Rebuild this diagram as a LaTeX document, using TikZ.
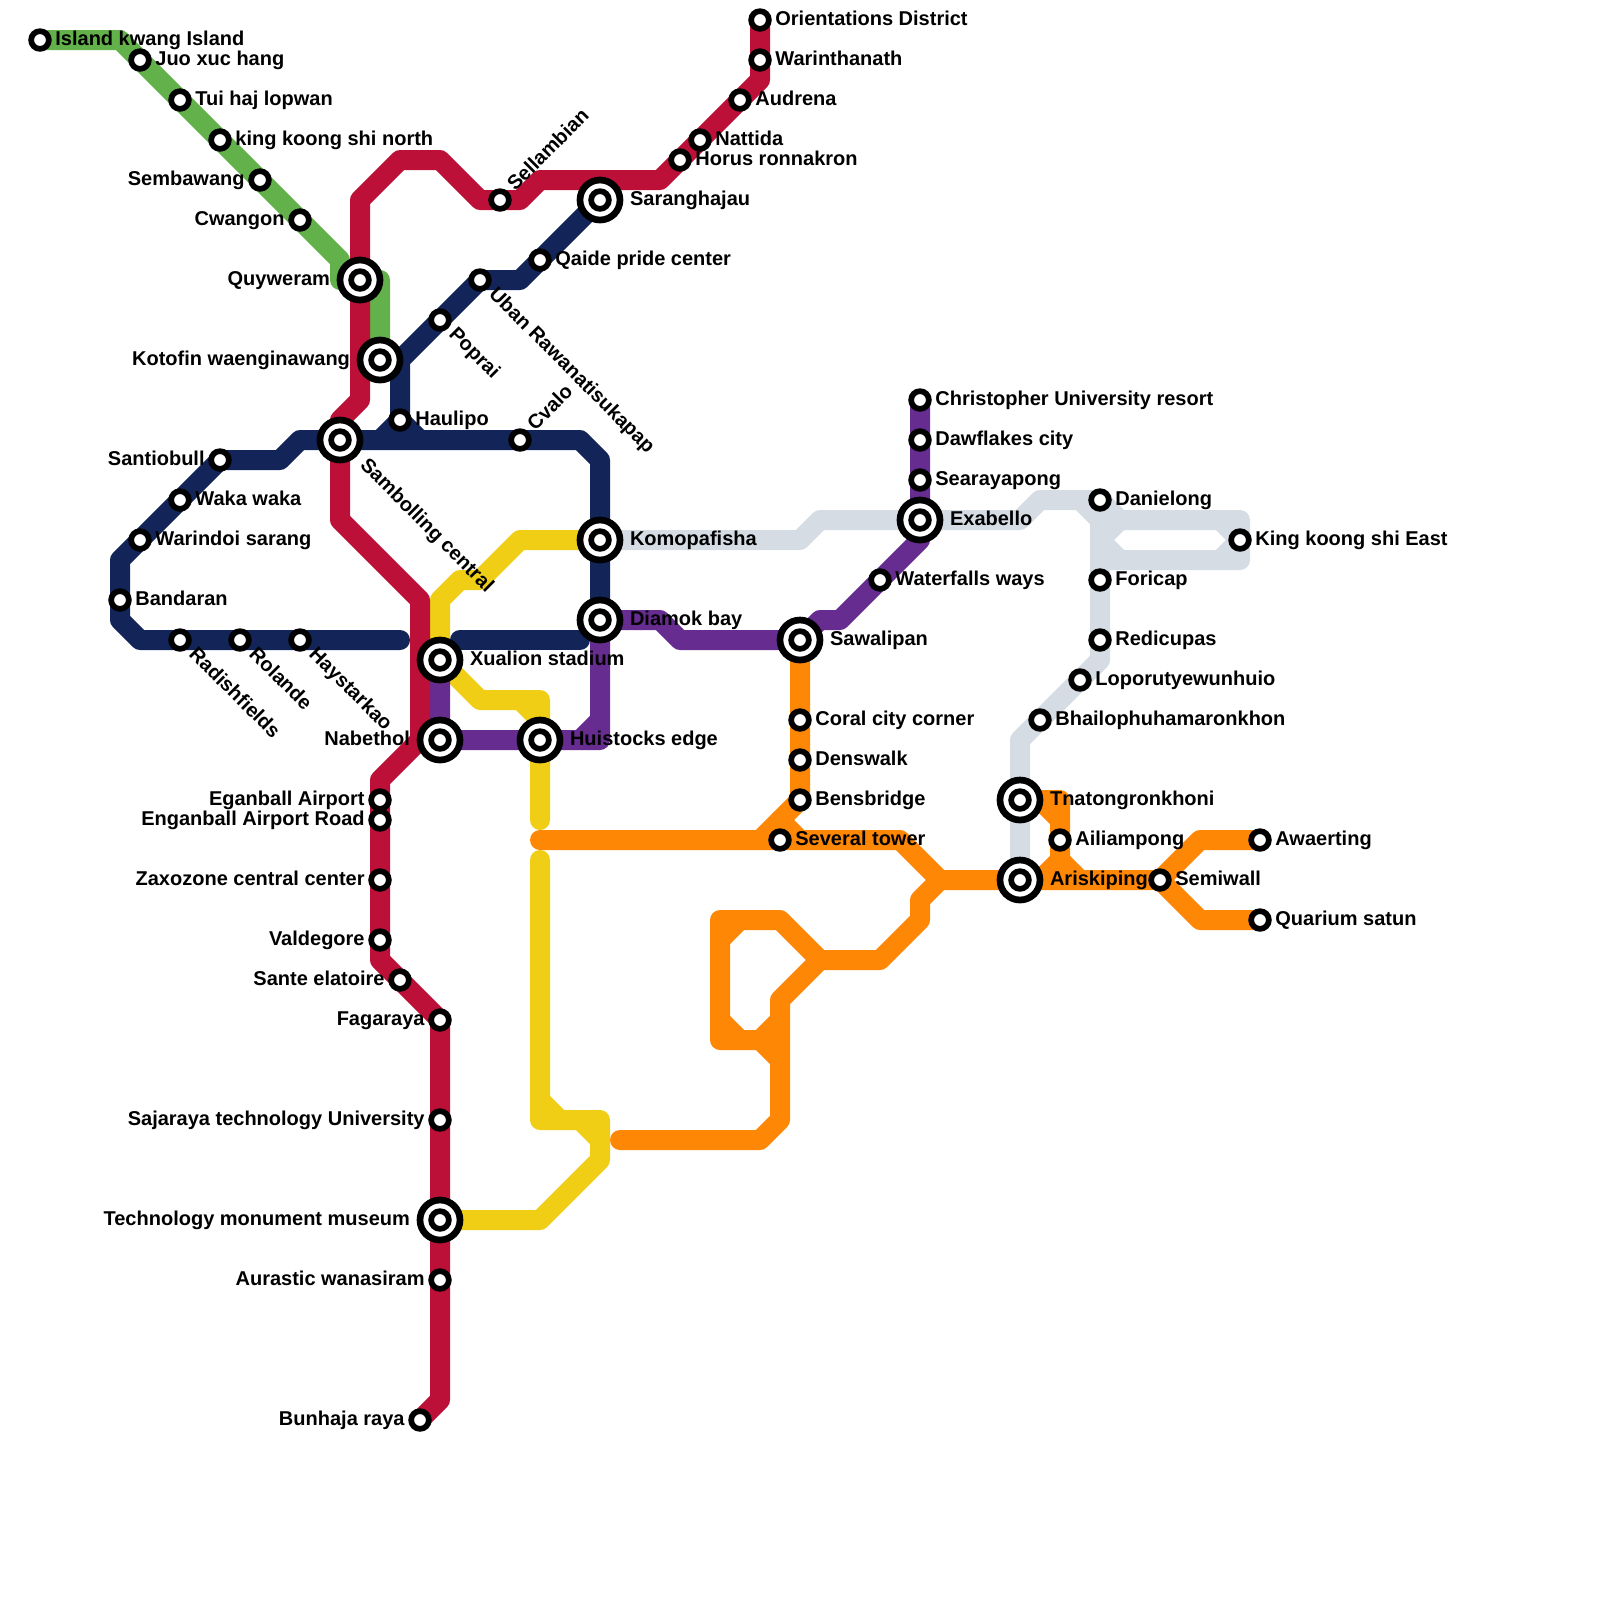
\documentclass[tikz,border=0pt]{standalone}
\usepackage{fontspec}
\setmainfont{Liberation Sans}
\usepackage{xcolor}
\usetikzlibrary{positioning,backgrounds}
\definecolor{crimson}{HTML}{BD1038}
\definecolor{navy}{HTML}{122458}
\definecolor{leaf}{HTML}{62B14A}
\definecolor{sun}{HTML}{F0CE15}
\definecolor{amber}{HTML}{FF8706}
\definecolor{plum}{HTML}{662C90}
\definecolor{mist}{HTML}{D5DCE4}

\begin{document}
\begin{tikzpicture}[x=.2cm,y=-.2cm,
   lin/.style={draw=#1,line width=.2cm,line cap=round,line join=round},
   stop/.style={circle,draw=black,fill=white,line width=.057cm,minimum size=.177cm,inner sep=0pt},
   hub/.style={circle,draw=black,fill=white,line width=.067cm,minimum size=.4cm,inner sep=0pt},
   lab/.style={font=\fontsize{.2cm}{.24cm}\selectfont\bfseries,inner sep=0pt,text=black,text height=.15cm,text depth=.05cm},
   lr/.style={right=\gap of \nm},
   ll/.style={left=\gap of \nm},
   lu/.style={above right=\gap and \gap of \nm,anchor=west,rotate=45},
   ld/.style={below right=\gap and \gap of \nm,anchor=west,rotate=-45}]
  \useasboundingbox (0,0) rectangle (80,80);
  \def\gap{.03cm}
  \foreach \nm/\x/\y/\dir/\txt in
     {island/2/2/lr/{Island kwang Island},juo/7/3/lr/{Juo xuc hang},tui/9/5/lr/{Tui haj lopwan},
      kingn/11/7/lr/{king koong shi north},sembawang/13/9/ll/{Sembawang},cwangon/15/11/ll/{Cwangon},
      orient/38/1/lr/{Orientations District},warin/38/3/lr/{Warinthanath},audrena/37/5/lr/{Audrena},
      nattida/35/7/lr/{Nattida},horus/34/8/lr/{Horus ronnakron},sellambian/25/10/lu/{Sellambian},
      qaide/27/13/lr/{Qaide pride center},uban/24/14/ld/{Uban Rawanatisukapap},poprai/22/16/ld/{Poprai},
      haulipo/20/21/lr/{Haulipo},cvalo/26/22/lu/{Cvalo},santiobull/11/23/ll/{Santiobull},
      waka/9/25/lr/{Waka waka},warindoi/7/27/lr/{Warindoi sarang},bandaran/6/30/lr/{Bandaran},
      radish/9/32/ld/{Radishfields},rolande/12/32/ld/{Rolande},haystarkao/15/32/ld/{Haystarkao},
      eganball/19/40/ll/{Eganball Airport},enganball/19/41/ll/{Enganball Airport Road},
      zaxozone/19/44/ll/{Zaxozone central center},valdegore/19/47/ll/{Valdegore},
      sante/20/49/ll/{Sante elatoire},fagaraya/22/51/ll/{Fagaraya},
      sajaraya/22/56/ll/{Sajaraya technology University},aurastic/22/64/ll/{Aurastic wanasiram},
      bunhaja/21/71/ll/{Bunhaja raya},christopher/46/20/lr/{Christopher University resort},
      dawflakes/46/22/lr/{Dawflakes city},searayapong/46/24/lr/{Searayapong},
      waterfalls/44/29/lr/{Waterfalls ways},coral/40/36/lr/{Coral city corner},denswalk/40/38/lr/{Denswalk},
      bensbridge/40/40/lr/{Bensbridge},several/39/42/lr/{Several tower},danielong/55/25/lr/{Danielong},
      kingeast/62/27/lr/{King koong shi East},foricap/55/29/lr/{Foricap},redicupas/55/32/lr/{Redicupas},
      loporu/54/34/lr/{Loporutyewunhuio},bhailo/52/36/lr/{Bhailophuhamaronkhon},
      ailiampong/53/42/lr/{Ailiampong},semiwall/58/44/lr/{Semiwall},awaerting/63/42/lr/{Awaerting},
      quarium/63/46/lr/{Quarium satun}}{
     \node[stop] (\nm) at (\x,\y) {};
     \node[lab,\dir] (\nm-t) {\txt};}
  \def\gap{.06cm}
  \foreach \nm/\x/\y/\dir/\txt in
     {quyweram/18/14/ll/{Quyweram},kotofin/19/18/ll/{Kotofin waenginawang},samboll/17/22/ld/{Sambolling central},
      saran/30/10/lr/{Saranghajau},komop/30/27/lr/{Komopafisha},diamok/30/31/lr/{Diamok bay},
      xualion/22/33/lr/{Xualion stadium},nabethol/22/37/ll/{Nabethol},huistocks/27/37/lr/{Huistocks edge},
      sawalipan/40/32/lr/{Sawalipan},exabello/46/26/lr/{Exabello},tnatong/51/40/lr/{Tnatongronkhoni},
      ariskiping/51/44/lr/{Ariskiping},techmon/22/61/ll/{Technology monument museum}}{
     \node[hub] (\nm) at (\x,\y) {};
     \node[stop] (\nm-in) at (\x,\y) {};
     \node[lab,\dir] (\nm-t) {\txt};}
  \begin{scope}[on background layer]
    % palest line first, the others lie over it
    \draw[lin=mist] (komop.center) -- (40,27) -- (41,26) -- (exabello.center) -- (51,26) -- (52,25) -- (danielong.center) -- (56,26) -- (62,26) -- (62,28) -- (55,28);
    \draw[lin=mist] (danielong.center) -- (foricap.center) -- (redicupas.center) -- (55,33) -- (54,34) -- (51,37) -- (ariskiping.center);
    \draw[lin=mist] (54,25) -- (55,26);
    \draw[lin=mist] (56,26) -- (55,27) -- (56,28);
    \draw[lin=mist] (61,26) -- (kingeast.center) -- (61,28);
    \draw[lin=leaf] (island.center) -- (6,2) -- (17,13) -- (17,14) -- (19,14) -- (kotofin.center);
    \draw[lin=sun] (komop.center) -- (26,27) -- (24,29) -- (23,29) -- (22,30) -- (xualion.center) -- (24,35) -- (27,35) -- (huistocks.center) -- (27,41);
    \draw[lin=sun] (26,35) -- (27,36);
    \draw[lin=sun] (27,43) -- (27,56) -- (30,56) -- (30,58) -- (27,61) -- (techmon.center);
    \draw[lin=sun] (27,55) -- (28,56);
    \draw[lin=sun] (29,56) -- (30,57);
    \draw[lin=amber] (sawalipan.center) -- (bensbridge.center) -- (38,42);
    \draw[lin=amber] (39,41) -- (40,42);
    \draw[lin=amber] (27,42) -- (45,42) -- (47,44) -- (semiwall.center) -- (60,42) -- (awaerting.center);
    \draw[lin=amber] (semiwall.center) -- (60,46) -- (quarium.center);
    \draw[lin=amber] (tnatong.center) -- (53,40) -- (53,43) -- (52,44);
    \draw[lin=amber] (52,40) -- (53,41);
    \draw[lin=amber] (53,43) -- (54,44);
    \draw[lin=amber] (47,44) -- (46,45) -- (46,46) -- (44,48) -- (41,48) -- (39,46) -- (36,46) -- (36,52) -- (38,52) -- (39,51);
    \draw[lin=amber] (41,48) -- (39,50) -- (39,56) -- (38,57) -- (31,57);
    \draw[lin=amber] (36,47) -- (37,46);
    \draw[lin=amber] (36,51) -- (37,52);
    \draw[lin=amber] (38,52) -- (39,53);
    \draw[lin=plum] (christopher.center) -- (46,27) -- (42,31) -- (41,31) -- (sawalipan.center) -- (34,32) -- (33,31) -- (diamok.center) -- (30,37) -- (nabethol.center) -- (xualion.center);
    \draw[lin=plum] (30,36) -- (29,37);
    \draw[lin=navy] (saran.center) -- (26,14) -- (uban.center) -- (20,18) -- (haulipo.center) -- (19,22);
    \draw[lin=navy] (haulipo.center) -- (21,22);
    \draw[lin=navy] (diamok.center) -- (30,23) -- (29,22) -- (15,22) -- (14,23) -- (santiobull.center) -- (6,28) -- (6,31) -- (7,32) -- (20,32);
    \draw[lin=navy] (23,32) -- (29,32);
    \draw[lin=crimson] (orient.center) -- (38,4) -- (33,9) -- (27,9) -- (26,10) -- (24,10) -- (22,8) -- (20,8) -- (18,10) -- (18,20) -- (17,21) -- (17,26) -- (21,30) -- (21,37) -- (19,39) -- (19,48) -- (22,51) -- (22,70) -- (bunhaja.center);
  \end{scope}
\end{tikzpicture}
\end{document}
